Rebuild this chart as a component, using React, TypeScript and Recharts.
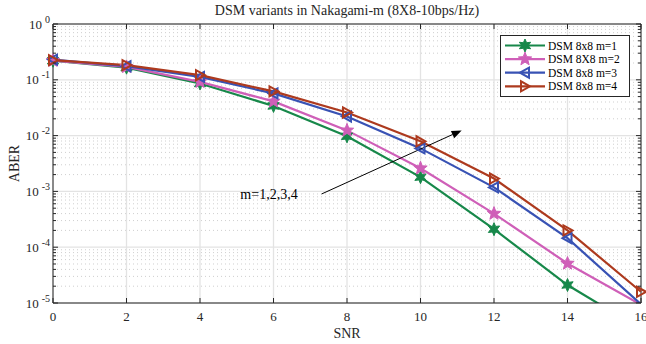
import React from 'react';
import { LineChart, Line, XAxis, YAxis, ReferenceLine, Legend } from 'recharts';

// SNR points (dB)
const snr = [0, 2, 4, 6, 8, 10, 12, 14, 16];

// Average bit error rate for each Nakagami-m fading parameter
const aberM1 = [0.22, 0.165, 0.086, 0.034, 0.0097, 0.0018, 0.00021, 0.000021, 0.0000034];
const aberM2 = [0.22, 0.17, 0.092, 0.041, 0.0124, 0.0026, 0.0004, 0.000051, 0.0000093];
const aberM3 = [0.23, 0.175, 0.113, 0.057, 0.022, 0.0059, 0.00118, 0.000145, 0.0000095];
const aberM4 = [0.225, 0.183, 0.121, 0.062, 0.026, 0.0079, 0.0017, 0.0002, 0.0000159];

const seriesNames = ['DSM 8x8 m=1', 'DSM 8X8 m=2', 'DSM 8x8 m=3', 'DSM 8x8 m=4'];
const seriesKeys = ['m1', 'm2', 'm3', 'm4'];
const seriesColors = ['#17884a', '#cf5fb8', '#3852b4', '#ad3a1e'];
const seriesMarkers = ['hexagram', 'pentagram', 'triLeft', 'triRight'];

const xTicks = [0, 2, 4, 6, 8, 10, 12, 14, 16];
const yMajorTicks = [1e-5, 1e-4, 1e-3, 1e-2, 1e-1, 1];
const yMinorTicks: number[] = [];
for (let e = -5; e < 0; e++) {
  for (let k = 2; k <= 9; k++) yMinorTicks.push(k * Math.pow(10, e));
}
const yAllTicks = [...yMajorTicks, ...yMinorTicks].sort((a, b) => a - b);

const title = 'DSM variants in Nakagami-m (8X8-10bps/Hz)';
const xLabel = 'SNR';
const yLabel = 'ABER';
const annotationText = 'm=1,2,3,4';
// arrow from (SNR, ABER) to (SNR, ABER)
const arrowFrom = { x: 7.31, y: 9.0e-4 };
const arrowTo = { x: 11.12, y: 0.0124 };

const data = snr.map((s, i) => ({
  snr: s,
  m1: aberM1[i],
  m2: aberM2[i],
  m3: aberM3[i],
  m4: aberM4[i],
}));

// layout
const W = 646;
const H = 344;
const MARGIN = { top: 24, right: 5, bottom: 0, left: 0 };
const Y_AXIS_W = 53;
const X_AXIS_H = 41;
const PLOT_RIGHT = W - MARGIN.right;
const PLOT_TOP = MARGIN.top;
const Y_MIN = 1e-5;
const Y_MAX = 1;

const FONT = "'Liberation Serif', 'Times New Roman', serif";
const AXIS_COLOR = '#262626';
const TEXT_COLOR = '#262626';

const isMajor = (v: number) => {
  const l = Math.log10(v);
  return Math.abs(l - Math.round(l)) < 1e-6;
};

function starPoints(cx: number, cy: number, n: number, rOut: number, rIn: number) {
  const pts: string[] = [];
  for (let i = 0; i < n * 2; i++) {
    const r = i % 2 === 0 ? rOut : rIn;
    const a = -Math.PI / 2 + (i * Math.PI) / n;
    pts.push(`${(cx + r * Math.cos(a)).toFixed(2)},${(cy + r * Math.sin(a)).toFixed(2)}`);
  }
  return pts.join(' ');
}

function MarkerShape({ kind, cx, cy, color }: { kind: string; cx: number; cy: number; color: string }) {
  if (kind === 'hexagram') {
    return <polygon points={starPoints(cx, cy, 6, 6.5, 3.2)} fill={color} stroke={color} strokeWidth={1} />;
  }
  if (kind === 'pentagram') {
    return <polygon points={starPoints(cx, cy, 5, 7, 3)} fill={color} stroke={color} strokeWidth={1} />;
  }
  if (kind === 'triLeft') {
    const p = `${cx - 5},${cy} ${cx + 4},${cy - 5} ${cx + 4},${cy + 5}`;
    return <polygon points={p} fill="none" stroke={color} strokeWidth={2} />;
  }
  const p = `${cx + 5},${cy} ${cx - 4},${cy - 5} ${cx - 4},${cy + 5}`;
  return <polygon points={p} fill="none" stroke={color} strokeWidth={2} />;
}

const makeDot = (kind: string, color: string) => (p: any) => {
  const { cx, cy, value, index } = p;
  const v = Array.isArray(value) ? value[1] : value;
  if (cx == null || cy == null || v < Y_MIN) return <g key={`dot-${kind}-${index}`} />;
  return (
    <g key={`dot-${kind}-${index}`}>
      <MarkerShape kind={kind} cx={cx} cy={cy} color={color} />
    </g>
  );
};

const YTick = (props: any) => {
  const { x, y, payload } = props;
  const v = payload.value;
  const major = isMajor(v);
  const len = major ? 5 : 3;
  const exp = Math.round(Math.log10(v));
  return (
    <g>
      <line x1={x} y1={y} x2={x + len} y2={y} stroke={AXIS_COLOR} strokeWidth={1} />
      <line x1={PLOT_RIGHT} y1={y} x2={PLOT_RIGHT - len} y2={y} stroke={AXIS_COLOR} strokeWidth={1} />
      {major && (
        <text x={x - 3} y={y} dy="0.35em" textAnchor="end" fontFamily={FONT} fontSize={13} fill={TEXT_COLOR}>
          <tspan>10</tspan>
          <tspan dx={3} dy={-6} fontSize={10}>{exp}</tspan>
        </text>
      )}
    </g>
  );
};

const XTick = (props: any) => {
  const { x, y, payload } = props;
  return (
    <g>
      <line x1={x} y1={y} x2={x} y2={y - 5} stroke={AXIS_COLOR} strokeWidth={1} />
      <line x1={x} y1={PLOT_TOP} x2={x} y2={PLOT_TOP + 5} stroke={AXIS_COLOR} strokeWidth={1} />
      <text x={x} y={y + 13} dy="0.35em" textAnchor="middle" fontFamily={FONT} fontSize={13} fill={TEXT_COLOR}>
        {payload.value}
      </text>
    </g>
  );
};

const ArrowShape = (props: any) => {
  const { x1, y1, x2, y2 } = props;
  if ([x1, y1, x2, y2].some((v) => v == null || Number.isNaN(v))) return <g />;
  const ang = Math.atan2(y2 - y1, x2 - x1);
  const hl = 10;
  const hw = 4;
  const bx = x2 - hl * Math.cos(ang);
  const by = y2 - hl * Math.sin(ang);
  const px = -Math.sin(ang) * hw;
  const py = Math.cos(ang) * hw;
  return (
    <g>
      <line x1={x1} y1={y1} x2={bx} y2={by} stroke="#000" strokeWidth={1} />
      <polygon points={`${x2},${y2} ${bx + px},${by + py} ${bx - px},${by - py}`} fill="#000" />
      <text x={x1 - 24} y={y1} dy="0.35em" textAnchor="end" fontFamily={FONT} fontSize={14} fill="#000">
        {annotationText}
      </text>
    </g>
  );
};

const LegendBox = () => (
  <svg width={130} height={62} style={{ display: 'block' }}>
    <rect x={0.5} y={0.5} width={129} height={61} fill="#fff" stroke={AXIS_COLOR} strokeWidth={1} />
    {seriesNames.map((name, i) => {
      const cy = 10.5 + i * 13.6;
      return (
        <g key={name}>
          <line x1={5} y1={cy} x2={45} y2={cy} stroke={seriesColors[i]} strokeWidth={2.2} />
          <MarkerShape kind={seriesMarkers[i]} cx={25} cy={cy} color={seriesColors[i]} />
          <text x={48} y={cy} dy="0.35em" fontFamily={FONT} fontSize={11.5} fill="#000">
            {name}
          </text>
        </g>
      );
    })}
  </svg>
);

export default function App() {
  return (
    <div style={{ position: 'absolute', left: 0, top: 0, width: W, height: H, background: '#fff' }}>
      <div
        style={{
          position: 'absolute',
          left: Y_AXIS_W,
          top: 3,
          width: PLOT_RIGHT - Y_AXIS_W,
          textAlign: 'center',
          fontFamily: FONT,
          fontSize: 14,
          color: TEXT_COLOR,
          lineHeight: '16px',
          zIndex: 2,
        }}
      >
        {title}
      </div>
      <LineChart width={W} height={H} data={data} margin={MARGIN}>
        <XAxis
          dataKey="snr"
          type="number"
          domain={[0, 16]}
          ticks={xTicks}
          interval={0}
          height={X_AXIS_H}
          tickSize={0}
          tickMargin={0}
          tickLine={false}
          tick={<XTick />}
          stroke={AXIS_COLOR}
          label={{
            content: (p: any) => {
              const vb = p.viewBox || {};
              return (
                <text x={vb.x + vb.width / 2} y={vb.y + 30} dy="0.35em" textAnchor="middle" fontFamily={FONT} fontSize={14} fill={TEXT_COLOR}>
                  {xLabel}
                </text>
              );
            },
          }}
        />
        <YAxis
          type="number"
          scale="log"
          domain={[Y_MIN, Y_MAX]}
          allowDataOverflow
          ticks={yAllTicks}
          interval={0}
          width={Y_AXIS_W}
          tickSize={0}
          tickMargin={0}
          tickLine={false}
          tick={<YTick />}
          stroke={AXIS_COLOR}
          label={{
            content: (p: any) => {
              const vb = p.viewBox || {};
              const cy = vb.y + vb.height / 2;
              return (
                <text x={14} y={cy} transform={`rotate(-90, 14, ${cy})`} dy="0.35em" textAnchor="middle" fontFamily={FONT} fontSize={14} fill={TEXT_COLOR}>
                  {yLabel}
                </text>
              );
            },
          }}
        />
        {yMinorTicks.map((v) => (
          <ReferenceLine key={`gm-${v}`} y={v} stroke="#cfcfcf" strokeWidth={1} strokeDasharray="1 3" />
        ))}
        {yMajorTicks.map((v) => (
          <ReferenceLine key={`gy-${v}`} y={v} stroke="#e3e3e3" strokeWidth={1.3} />
        ))}
        {xTicks.map((v) => (
          <ReferenceLine key={`gx-${v}`} x={v} stroke="#e3e3e3" strokeWidth={1.3} />
        ))}
        <ReferenceLine y={Y_MAX} stroke={AXIS_COLOR} strokeWidth={1} />
        <ReferenceLine x={16} stroke={AXIS_COLOR} strokeWidth={1} />
        {seriesKeys.map((k, i) => (
          <Line
            key={k}
            dataKey={k}
            name={seriesNames[i]}
            type="linear"
            stroke={seriesColors[i]}
            strokeWidth={2.2}
            dot={makeDot(seriesMarkers[i], seriesColors[i])}
            activeDot={false}
            isAnimationActive={false}
          />
        ))}
        <ReferenceLine
          segment={[arrowFrom, arrowTo]}
          shape={<ArrowShape />}
        />
        <Legend
          layout="horizontal"
          verticalAlign="middle"
          align="center"
          wrapperStyle={{ position: 'absolute', left: 500, top: 35, width: 130, height: 62 }}
          content={() => <LegendBox />}
        />
      </LineChart>
    </div>
  );
}
